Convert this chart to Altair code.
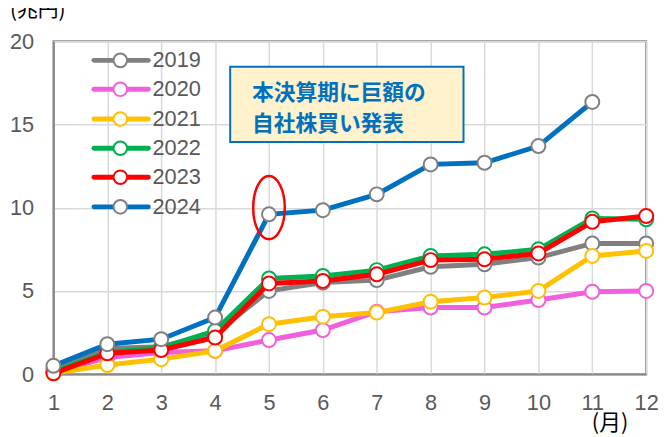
import altair as alt
import pandas as pd

months = list(range(1, 13))
years = ["2019", "2020", "2021", "2022", "2023", "2024"]

v2019 = [0.35, 1.55, 1.65, 2.45, 5.0, 5.5, 5.65, 6.45, 6.6, 7.0, 7.85, 7.85]
v2020 = [0.1, 1.0, 1.3, 1.4, 2.05, 2.65, 3.75, 4.0, 4.0, 4.45, 4.95, 5.0]
v2021 = [0.05, 0.55, 0.9, 1.4, 3.0, 3.45, 3.7, 4.35, 4.6, 5.0, 7.1, 7.4]
v2022 = [0.15, 1.3, 1.6, 2.6, 5.75, 5.9, 6.25, 7.1, 7.2, 7.5, 9.35, 9.3]
v2023 = [0.05, 1.25, 1.45, 2.2, 5.45, 5.6, 6.0, 6.85, 6.9, 7.25, 9.15, 9.5]
v2024 = [0.5, 1.8, 2.1, 3.4, 9.6, 9.85, 10.8, 12.6, 12.7, 13.7, 16.35, None]
series_values = [v2019, v2020, v2021, v2022, v2023, v2024]

line_colors = ["#808080", "#F060DC", "#FFC000", "#00B050", "#FF0000", "#0070C0"]
marker_strokes = ["#808080", "#F060DC", "#FFC000", "#00B050", "#FF0000", "#808080"]

y_ticks = [0, 5, 10, 15, 20]

# legend rows (data units) inside the plot
legend_y = [18.85, 17.11, 15.33, 13.57, 11.83, 10.05]
legend_x1, legend_x2, legend_xc, legend_xt = 1.752, 2.76, 2.241, 2.839

# annotation
note_lines = ["本決算期に巨額の", "自社株買い発表"]
note_line_y = [16.87, 15.0]
note_text_x = 4.685
note_box = dict(x=4.28, x2=8.61, y=13.95, y2=18.46)
ellipse_month, ellipse_value = 5, 10.0

AXFONT = "Liberation Sans"
JPFONT = "Noto Sans CJK JP"

x_enc = alt.X(
    "month:Q",
    scale=alt.Scale(domain=[1, 12], nice=False, zero=False),
    axis=alt.Axis(
        values=months, title=None, labelFontSize=22, labelFont=AXFONT,
        labelColor="#595959", ticks=False, labelPadding=19, format="d",
        grid=True, gridColor="#D9D9D9", gridWidth=1.5,
        domainColor="#898989", domainWidth=2, labelFlush=False,
    ),
)
y_scale = alt.Scale(domain=[0, 20], nice=False)
y_enc = alt.Y(
    "value:Q",
    scale=y_scale,
    axis=alt.Axis(
        values=y_ticks, title=None, labelFontSize=22, labelFont=AXFONT,
        labelColor="#595959", ticks=False, labelPadding=20,
        grid=True, gridColor="#D9D9D9", gridWidth=1.5,
        domainColor="#898989", domainWidth=2,
    ),
)

layers = []
for yr, vals, lc, mc in zip(years, series_values, line_colors, marker_strokes):
    d = pd.DataFrame({"month": months, "value": vals}).dropna()
    b = alt.Chart(d)
    layers.append(
        b.mark_line(strokeWidth=5, color=lc).encode(x=x_enc, y=y_enc)
    )
    layers.append(
        b.mark_point(shape="circle", size=200, filled=True, fill="white",
                     stroke=mc, strokeWidth=2, opacity=1).encode(x=x_enc, y=y_enc)
    )

# legend
leg = pd.DataFrame({
    "year": years, "ly": legend_y,
    "x1": [legend_x1] * 6, "x2": [legend_x2] * 6,
    "xc": [legend_xc] * 6, "xt": [legend_xt] * 6,
})
col_scale = alt.Scale(domain=years, range=line_colors)
mk_scale = alt.Scale(domain=years, range=marker_strokes)
lb = alt.Chart(leg)
layers.append(
    lb.mark_rule(strokeWidth=5, strokeCap="round").encode(
        x=alt.X("x1:Q", scale=alt.Scale(domain=[1, 12], nice=False, zero=False)),
        x2="x2:Q",
        y=alt.Y("ly:Q", scale=y_scale),
        color=alt.Color("year:N", scale=col_scale, legend=None),
    )
)
layers.append(
    lb.mark_point(shape="circle", size=190, filled=True, fill="white",
                  strokeWidth=2, opacity=1).encode(
        x="xc:Q", y="ly:Q",
        stroke=alt.Stroke("year:N", scale=mk_scale, legend=None),
    )
)
layers.append(
    lb.mark_text(align="left", baseline="middle", fontSize=22, font=AXFONT,
                 color="#595959").encode(x="xt:Q", y="ly:Q", text="year:N")
)

# annotation box
box = pd.DataFrame([note_box])
layers.append(
    alt.Chart(box).mark_rect(fill="#FFF2CC", stroke="#0070C0", strokeWidth=2).encode(
        x="x:Q", x2="x2:Q", y="y:Q", y2="y2:Q"
    )
)
note = pd.DataFrame({"t": note_lines, "y": note_line_y, "x": [note_text_x] * 2})
layers.append(
    alt.Chart(note).mark_text(align="left", baseline="middle", fontSize=22,
                              font=JPFONT, fontWeight="bold", color="#0070C0").encode(
        x="x:Q", y="y:Q", text="t:N"
    )
)

# red ellipse
ell = pd.DataFrame({"month": [ellipse_month], "value": [ellipse_value]})
layers.append(
    alt.Chart(ell).mark_point(
        shape="M -0.5 0 A 0.5 1 0 1 0 0.5 0 A 0.5 1 0 1 0 -0.5 0",
        size=4096, filled=False, stroke="#FF0000", strokeWidth=2.5, opacity=1,
    ).encode(x="month:Q", y="value:Q")
)

# unit labels
units = pd.DataFrame({"t": ["(兆円)", "(月)"]})
layers.append(
    alt.Chart(units).transform_filter(alt.datum.t == "(兆円)").mark_text(
        align="left", baseline="alphabetic", fontSize=21, font=JPFONT, color="#000000"
    ).encode(x=alt.value(-44), y=alt.value(-25), text="t:N")
)
layers.append(
    alt.Chart(units).transform_filter(alt.datum.t == "(月)").mark_text(
        align="left", baseline="middle", fontSize=22, font=JPFONT, color="#000000"
    ).encode(x=alt.value(545), y=alt.value(387), text="t:N")
)

chart = alt.layer(*layers).properties(
    width=600, height=337,
    autosize=alt.AutoSizeParams(type="none"),
    padding={"left": 46, "top": 31, "right": 15, "bottom": 61},
    background="white",
).configure_view(stroke="#898989", strokeWidth=2)

chart.save("out.html", embed_options={"renderer": "svg", "actions": False})
